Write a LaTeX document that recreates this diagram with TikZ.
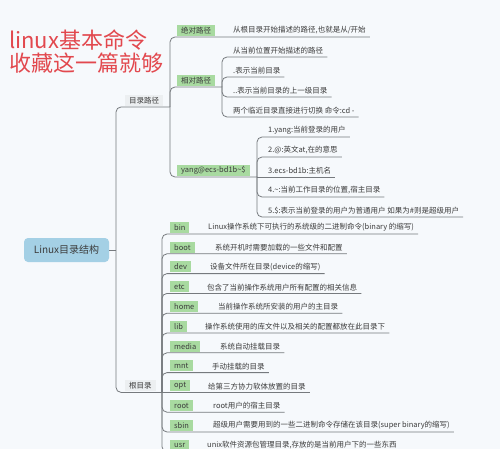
\documentclass[tikz,border=0pt]{standalone}
\usepackage{fontspec}
\setmainfont{Noto Sans CJK SC}
\definecolor{bgBlue}{RGB}{246,249,252}
\definecolor{lineGray}{RGB}{118,122,126}
\definecolor{textGray}{RGB}{60,60,60}
\definecolor{tagGreen}{RGB}{168,218,160}
\definecolor{tagGray}{RGB}{236,239,241}
\definecolor{rootBlue}{RGB}{164,208,229}
\definecolor{titleRed}{RGB}{226,72,78}
\tikzset{
  link/.style={draw=lineGray, line width=0.8pt, rounded corners=5pt},
  tag/.style={fill=tagGreen, text=textGray, font=\fontsize{7.5}{9}\selectfont,
    inner xsep=4pt, inner ysep=0pt, minimum height=11pt, anchor=south west},
  subject/.style={tag, fill=tagGray},
  desc/.style={text=textGray, font=\fontsize{7.5}{9}\selectfont,
    inner xsep=4pt, inner ysep=2.5pt, anchor=south west},
  central/.style={fill=rootBlue, text=textGray, rounded corners=4pt,
    font=\fontsize{10}{12}\selectfont, minimum width=85pt, minimum height=24pt},
  headline/.style={text=titleRed, font=\fontsize{22}{23}\selectfont,
    align=left, inner sep=0pt, anchor=north west}
}
\begin{document}
\begin{tikzpicture}[x=1pt,y=-1pt]
  \useasboundingbox (0,0) rectangle (500,449);
  \fill[bgBlue] (0,0) rectangle (500,449);
  \clip (0,0) rectangle (500,449);

  \node[name=title, headline] at (9,30) {linux基本命令\\收藏这一篇就够};

  \node[name=central, central] at (66.5,250) {Linux目录结构};
  \coordinate (mt) at (116,250);
  \draw[link] (central.east) -- (mt);

  % 目录路径
  \node[name=dirpath, subject] at (125,106) {目录路径};
  \coordinate (dt) at (170,107);
  \draw[link] (mt) |- (dt);

  \node[name=abs, tag] at (177,36) {绝对路径};
  \node[name=abs1, desc] at (229,37) {从根目录开始描述的路径,也就是从/开始};
  \draw[link] (dt) |- (abs1.south east);

  \node[name=rel, tag] at (177,86) {相对路径};
  \coordinate (rt) at (222,87);
  \draw[link] (dt) |- (rt);
  \node[name=rel1, desc] at (229,57) {从当前位置开始描述的路径};
  \node[name=rel2, desc] at (229,77) {.表示当前目录};
  \node[name=rel3, desc] at (229,97) {..表示当前目录的上一级目录};
  \node[name=rel4, desc] at (229,117) {两个临近目录直接进行切换 命令:cd -};
  \draw[link] (rt) |- (rel1.south east);
  \draw[link] (rt) |- (rel2.south east);
  \draw[link] (rt) |- (rel3.south east);
  \draw[link] (rt) |- (rel4.south east);

  \node[name=yang, tag] at (177,176) {yang@ecs-bd1b\textasciitilde\$};
  \coordinate (yt) at (257,177);
  \draw[link] (dt) |- (yt);
  \node[name=yang1, desc] at (264,137) {1.yang:当前登录的用户};
  \node[name=yang2, desc] at (264,157) {2.@:英文at,在的意思};
  \node[name=yang3, desc] at (264,177) {3.ecs-bd1b:主机名};
  \node[name=yang4, desc] at (264,197) {4.\textasciitilde:当前工作目录的位置,宿主目录};
  \node[name=yang5, desc] at (264,217) {5.\$:表示当前登录的用户为普通用户 如果为\#则是超级用户};
  \draw[link] (yt) |- (yang1.south east);
  \draw[link] (yt) |- (yang2.south east);
  \draw[link] (yt) -- (yang3.south east);
  \draw[link] (yt) |- (yang4.south east);
  \draw[link] (yt) |- (yang5.south east);

  % 根目录
  \node[name=rootdir, subject] at (125,391.4) {根目录};
  \coordinate (bt) at (162,392.4);
  \draw[link] (mt) |- (bt);

  \node[name=bin, tag] at (170,233) {bin};
  \node[name=bin1, desc] at (204,234) {Linux操作系统下可执行的系统级的二进制命令(binary 的缩写)};
  \node[name=boot, tag] at (170,252.8) {boot};
  \node[name=boot1, desc] at (211,253.8) {系统开机时需要加载的一些文件和配置};
  \node[name=dev, tag] at (170,272.6) {dev};
  \node[name=dev1, desc] at (206,273.6) {设备文件所在目录(device的缩写)};
  \node[name=etc, tag] at (170,292.4) {etc};
  \node[name=etc1, desc] at (203,293.4) {包含了当前操作系统用户所有配置的相关信息};
  \node[name=home, tag] at (170,312.2) {home};
  \node[name=home1, desc] at (214,313.2) {当前操作系统所安装的用户的主目录};
  \node[name=lib, tag] at (170,332) {lib};
  \node[name=lib1, desc] at (201,333) {操作系统使用的库文件以及相关的配置都放在此目录下};
  \node[name=media, tag] at (170,351.8) {media};
  \node[name=media1, desc] at (216,352.8) {系统自动挂载目录};
  \node[name=mnt, tag] at (170,371.6) {mnt};
  \node[name=mnt1, desc] at (208,372.6) {手动挂载的目录};
  \node[name=opt, tag] at (170,391.4) {opt};
  \node[name=opt1, desc] at (204,392.4) {给第三方协力软体放置的目录};
  \node[name=root, tag] at (170,411.2) {root};
  \node[name=root1, desc] at (209,412.2) {root用户的宿主目录};
  \node[name=sbin, tag] at (170,431) {sbin};
  \node[name=sbin1, desc] at (209,432) {超级用户需要用到的一些二进制命令存储在该目录(super binary的缩写)};
  \node[name=usr, tag] at (170,450.8) {usr};
  \node[name=usr1, desc] at (203,451.8) {unix软件资源包管理目录,存放的是当前用户下的一些东西};

  \draw[link] (bt) |- (bin1.south east);
  \draw[link] (bt) |- (boot1.south east);
  \draw[link] (bt) |- (dev1.south east);
  \draw[link] (bt) |- (etc1.south east);
  \draw[link] (bt) |- (home1.south east);
  \draw[link] (bt) |- (lib1.south east);
  \draw[link] (bt) |- (media1.south east);
  \draw[link] (bt) |- (mnt1.south east);
  \draw[link] (bt) -- (opt1.south east);
  \draw[link] (bt) |- (root1.south east);
  \draw[link] (bt) |- (sbin1.south east);
  \draw[link] (bt) |- (usr1.south east);
\end{tikzpicture}
\end{document}
